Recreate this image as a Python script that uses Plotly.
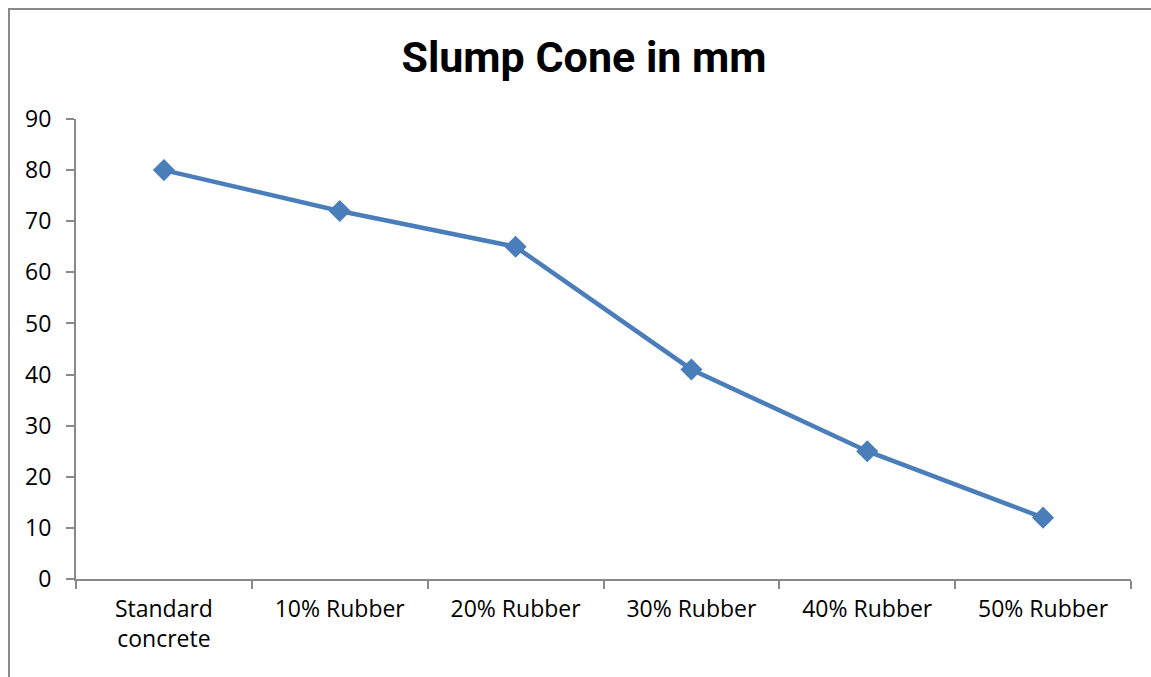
import plotly.graph_objects as go

categories = ["Standard<br>concrete", "10% Rubber", "20% Rubber", "30% Rubber", "40% Rubber", "50% Rubber"]
slump_mm = [80, 72, 65, 41, 25, 12]
y_ticks = [0, 10, 20, 30, 40, 50, 60, 70, 80, 90]

FONT = "Open Sans, Roboto, sans-serif"
TITLE_FONT = "Roboto, Open Sans, sans-serif"
AXIS = "#898989"

W, H = 1151, 677
L, T = 76, 119
R, B = W - 1131, H - 579
pw, ph = W - L - R, H - T - B

fig = go.Figure()
fig.add_trace(go.Scatter(
    x=categories, y=slump_mm, mode="lines+markers",
    line=dict(color="#4A7EBB", width=4.5),
    marker=dict(symbol="diamond", size=17, color="#4A7EBB"),
    showlegend=False,
))

fig.update_layout(
    width=W, height=H,
    margin=dict(l=L, r=R, t=T, b=B),
    paper_bgcolor="white", plot_bgcolor="white",
    font=dict(family=FONT, size=23, color="black"),
    title=dict(text="<b>Slump Cone in mm</b>", x=584 / W, xanchor="center",
               y=1 - 57 / H, yanchor="middle", font=dict(size=43, family=TITLE_FONT)),
    xaxis=dict(
        type="category", range=[-0.5, 5.5], tickson="boundaries",
        showline=True, linecolor=AXIS, linewidth=2,
        ticks="outside", ticklen=8, tickcolor=AXIS, tickwidth=2,
        showgrid=False, zeroline=False, tickfont=dict(size=23),
        ticklabelstandoff=8,
    ),
    yaxis=dict(
        range=[0, 90], tickvals=y_ticks, ticktext=[str(v) for v in y_ticks],
        showline=True, linecolor=AXIS, linewidth=2,
        ticks="outside", ticklen=8, tickcolor=AXIS, tickwidth=2,
        showgrid=False, zeroline=False, tickfont=dict(size=23),
        ticklabelstandoff=10,
    ),
)

# chart frame (left and top border)
fx = lambda px: (px - L) / pw
fy = lambda py: 1 - (py - T) / ph
fig.add_shape(type="line", xref="paper", yref="paper",
              x0=fx(9), x1=fx(9), y0=fy(8), y1=fy(H),
              line=dict(color=AXIS, width=2))
fig.add_shape(type="line", xref="paper", yref="paper",
              x0=fx(8), x1=fx(W), y0=fy(9), y1=fy(9),
              line=dict(color=AXIS, width=2))

fig.write_html(
    "out.html",
    config={"displayModeBar": False},
    post_script="document.body.style.margin='0';document.body.style.overflow='hidden';",
)
